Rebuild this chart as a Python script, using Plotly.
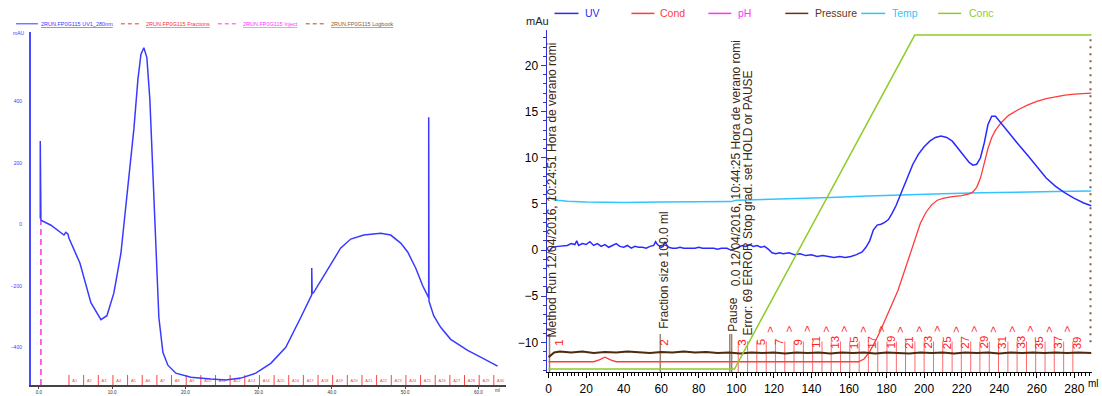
import plotly.graph_objects as go

W, H = 1102, 396
FONT = "Arial, Liberation Sans, sans-serif"

# ---------------- LEFT PANEL DATA (volume, mAU) ----------------
left_vol = [0.18, 0.18, 0.27, 1.64, 3.41, 3.68, 3.96, 4.09, 5.59, 7.09, 8.46, 9.28, 10.23, 11.19,
            12.14, 12.96, 13.51, 13.92, 14.32, 14.73, 15.14, 15.55, 15.96, 16.37, 16.92, 17.6,
            18.69, 20.74, 23.47, 25.51, 27.56, 29.6, 31.65, 33.7, 35.74, 37.24, 37.24, 37.3, 37.5,
            38.47, 39.84, 41.2, 42.57, 44.34, 46.66, 48.02, 49.39, 50.34, 51.43, 52.39, 53.21,
            53.21, 53.25, 53.89, 54.84, 56.21, 58.53, 60.3, 62.62]
left_uv = [19, 271, 13, -3, -35, -26, -32, -45, -126, -255, -310, -297, -223, -94,
           116, 310, 471, 552, 574, 542, 406, 181, -77, -303, -416, -458,
           -484, -497, -503, -506, -500, -484, -452, -400, -303, -229, -142, -225, -222,
           -184, -126, -77, -48, -35, -29, -35, -61, -90, -142, -200, -239,
           348, -250, -297, -335, -374, -410, -432, -461]
left_frac_vol = [4.1, 6.1, 8.1, 10.1, 12.1, 14.1, 16.1, 18.1, 20.1, 22.1, 24.1, 26.1, 28.1, 30.1,
                 32.1, 34.1, 36.1, 38.1, 40.1, 42.1, 44.1, 46.1, 48.1, 50.1, 52.1, 54.1, 56.1,
                 58.1, 60.1, 62.1]
left_inject_vol = 0.27
left_xticks = [0, 10, 20, 30, 40, 50, 60]
left_xticktext = ["0.0", "10.0", "20.0", "30.0", "40.0", "50.0", "60.0"]
left_yticks = [-400, -200, 0, 200, 400]
left_legend = ["2RUN.FP0G115 UV1_280nm", "2RUN.FP0G115 Fractions",
               "2RUN.FP0G115 Inject", "2RUN.FP0G115 Logbook"]

# ---------------- RIGHT PANEL DATA (ml) ----------------
uv_x = [0, 1, 2, 5, 8, 10, 12, 14, 15, 16, 18, 20, 22, 24, 26, 28, 30, 32, 34, 36, 38, 40, 42, 44,
        46, 48, 50, 52, 54, 56, 57, 58, 60, 61, 62, 63, 64, 66, 68, 70, 72, 75, 78, 80, 82, 85,
        88, 90, 92, 95, 97, 99, 101, 103, 105, 107, 109, 111, 113, 115, 117, 119, 121, 123, 125,
        128, 131, 134, 137, 140, 143, 146, 149, 152, 155, 158, 161, 164, 167, 169, 171, 173, 175,
        177, 179, 181, 183, 185, 187, 189, 191, 194, 197, 200, 203, 206, 209, 212, 215, 218, 221,
        224, 226, 228, 230, 232, 234, 236, 238, 240, 243, 246, 250, 255, 260, 265, 270, 275, 280,
        285, 289]
uv_y = [-0.2, 0.1, 0.3, 0.4, 0.5, 0.5, 0.7, 0.6, 1.0, 0.5, 0.7, 0.6, 0.9, 0.5, 0.7, 0.4, 0.6, 0.3,
        0.5, 0.7, 0.4, 0.3, 0.5, 0.2, 0.4, 0.3, 0.3, 0.2, 0.4, 0.5, 0.9, 0.6, 0.3, 0.4, 0.9, 0.5,
        0.3, 0.2, 0.2, 0.3, 0.2, 0.2, 0.2, 0.3, 0.2, 0.2, 0.2, 0.1, 0.2, 0.2, 0.0, 0.1, 0.3, 0.5,
        0.4, 0.6, 0.4, 0.5, 0.3, 0.4, 0.1, -0.3, -0.4, -0.3, -0.4, -0.3, -0.5, -0.4, -0.6, -0.5,
        -0.7, -0.6, -0.7, -0.8, -0.7, -0.8, -0.7, -0.5, -0.2, 0.3, 1.0, 2.2, 2.7, 2.8, 3.0, 3.3,
        4.0, 4.8, 5.8, 6.8, 8.0, 9.3, 10.4, 11.2, 11.8, 12.2, 12.35, 12.2, 11.8, 11.0, 10.2, 9.5,
        9.2, 9.3, 10.0, 11.6, 13.6, 14.5, 14.5, 14.0, 13.2, 12.4, 11.5, 10.3, 9.0, 7.8, 6.9, 6.2,
        5.6, 5.1, 4.8]

cond_x = [0, 24, 27, 30, 33, 36, 165, 168, 171, 174, 177, 180, 183, 186, 189, 192, 195, 198, 201,
          204, 207, 210, 215, 220, 224, 226, 228, 230, 232, 234, 236, 238, 241, 245, 250, 255,
          260, 265, 270, 275, 280, 289]
cond_y = [-12.1, -12.1, -11.9, -11.6, -11.9, -12.1, -12.1, -11.8, -11.0, -9.9, -8.6, -7.2, -5.8,
          -4.4, -2.6, -0.8, 1.2, 2.9, 4.1, 4.9, 5.4, 5.6, 5.8, 5.9, 6.1, 6.3, 6.8, 7.8, 9.4, 11.0,
          12.2, 13.0, 13.8, 14.6, 15.2, 15.7, 16.1, 16.4, 16.6, 16.8, 16.9, 17.0]

temp_x = [0, 2, 5, 10, 20, 40, 60, 80, 97, 100, 110, 130, 150, 170, 190, 210, 230, 250, 270, 289]
temp_y = [5.8, 5.5, 5.4, 5.3, 5.2, 5.15, 5.2, 5.2, 5.25, 5.4, 5.45, 5.55, 5.7, 5.85, 6.0, 6.1,
          6.2, 6.3, 6.35, 6.4]

press_x = [0, 3, 6, 12, 18, 24, 30, 36, 42, 48, 54, 60, 66, 72, 78, 84, 90, 96, 102, 108, 114,
           120, 126, 132, 138, 144, 150, 156, 162, 168, 174, 180, 186, 192, 198, 204, 210, 216,
           222, 228, 234, 240, 246, 252, 258, 264, 270, 276, 282, 289]
press_y = [-11.6, -11.1, -11.0, -11.1, -11.0, -11.15, -11.05, -11.1, -11.0, -11.1, -11.15, -11.05,
           -11.1, -11.0, -11.1, -11.05, -11.15, -11.1, -11.2, -11.1, -11.15, -11.1, -11.2, -11.1,
           -11.15, -11.1, -11.2, -11.1, -11.15, -11.1, -11.2, -11.1, -11.15, -11.2, -11.1,
           -11.15, -11.1, -11.2, -11.1, -11.15, -11.1, -11.2, -11.1, -11.15, -11.1, -11.15,
           -11.1, -11.15, -11.1, -11.15]

conc_x = [0, 99, 195, 289]
conc_y = [0, 0, 100, 100]

frac_no = list(range(1, 40))
frac_start = [3.5, 59.5, 101.0, 106.0, 110.9, 115.9, 120.8, 125.8, 130.7, 135.7, 140.6, 145.6,
              150.5, 155.5, 160.4, 165.4, 170.3, 175.3, 180.2, 185.2, 190.1, 195.1, 200.0, 205.0,
              209.9, 214.9, 219.8, 224.8, 229.7, 234.7, 239.6, 244.6, 249.5, 254.5, 259.4, 264.4,
              269.3, 274.3, 279.2]

logbook_x = [0.5, 59.5, 96.5, 97.5]
end_x = 288.6
logbook_text = ["Method Run 12/04/2016, 10:24:51 Hora de verano romi",
                "Fraction size 100.0 ml",
                "Pause",
                "0.0 12/04/2016, 10:44:25 Hora de verano romi",
                "Error: 69 ERROR Stop grad. set HOLD or PAUSE"]
logbook_text_x = [2.0, 61.5, 98.0, 100.0, 106.4]
logbook_text_y = [-9.7, -8.8, -9.1, -4.1, -9.5]

series_names = ["UV", "Cond", "pH", "Pressure", "Temp", "Conc"]
series_colors = ["#2a2aff", "#ff3b3b", "#ff33ff", "#663311", "#33c4ff", "#8fcc2a"]

# ---------------- FIGURE ----------------
fig = go.Figure()

def px(x):
    return x / W

def py(y):
    return 1 - y / H

L_YR = [-522.6, 625.8]
R_YR = [-13.23, 23.87]

# left: fractions marks
fx, fy = [], []
for v in left_frac_vol:
    fx += [v, v, None]
    fy += [L_YR[0], -490, None]
fig.add_trace(go.Scatter(x=fx, y=fy, mode="lines", line=dict(color="#ff4040", width=1),
                         xaxis="x", yaxis="y", showlegend=False, hoverinfo="skip"))
fig.add_trace(go.Scatter(x=[v + 0.45 for v in left_frac_vol], y=[-508] * len(left_frac_vol),
                         mode="text", text=[f"A{i+1}" for i in range(len(left_frac_vol))],
                         textfont=dict(size=4, color="#ff4040", family=FONT),
                         textposition="middle right", xaxis="x", yaxis="y",
                         showlegend=False, hoverinfo="skip"))
# inject mark
fig.add_trace(go.Scatter(x=[left_inject_vol, left_inject_vol], y=[L_YR[0], 13], mode="lines",
                         line=dict(color="#ff33dd", width=1.5, dash="6px,4px"),
                         xaxis="x", yaxis="y", showlegend=False, hoverinfo="skip"))
# left UV
fig.add_trace(go.Scatter(x=left_vol, y=left_uv, mode="lines",
                         line=dict(color="#3a3aff", width=1.5),
                         xaxis="x", yaxis="y", showlegend=False, hoverinfo="skip"))

# right: logbook lines
lx, ly = [], []
for v in logbook_x:
    lx += [v, v, None]
    ly += [R_YR[0], -9.1, None]
fig.add_trace(go.Scatter(x=lx, y=ly, mode="lines", line=dict(color="#9a8472", width=1.5),
                         xaxis="x2", yaxis="y2", showlegend=False, hoverinfo="skip"))
fig.add_trace(go.Scatter(x=[end_x, end_x], y=[-10.0, 23.4], mode="lines",
                         line=dict(color="#7a6048", width=2, dash="2px,5px"),
                         xaxis="x2", yaxis="y2", showlegend=False, hoverinfo="skip"))
# fraction lines
rx, ry = [], []
for v in frac_start[2:]:
    rx += [v, v, None]
    ry += [R_YR[0], -9.9, None]
fig.add_trace(go.Scatter(x=rx, y=ry, mode="lines", line=dict(color="#ff6a6a", width=1),
                         xaxis="x2", yaxis="y2", showlegend=False, hoverinfo="skip"))
# series
fig.add_trace(go.Scatter(x=conc_x, y=conc_y, mode="lines", line=dict(color=series_colors[5], width=1.5),
                         xaxis="x2", yaxis="y3", showlegend=False, hoverinfo="skip"))
fig.add_trace(go.Scatter(x=temp_x, y=temp_y, mode="lines", line=dict(color=series_colors[4], width=1.5),
                         xaxis="x2", yaxis="y2", showlegend=False, hoverinfo="skip"))
fig.add_trace(go.Scatter(x=cond_x, y=cond_y, mode="lines", line=dict(color=series_colors[1], width=1.3),
                         xaxis="x2", yaxis="y2", showlegend=False, hoverinfo="skip"))
fig.add_trace(go.Scatter(x=press_x, y=press_y, mode="lines", line=dict(color="#4f2a0c", width=2),
                         xaxis="x2", yaxis="y2", showlegend=False, hoverinfo="skip"))
fig.add_trace(go.Scatter(x=uv_x, y=uv_y, mode="lines", line=dict(color=series_colors[0], width=1.5),
                         xaxis="x2", yaxis="y2", showlegend=False, hoverinfo="skip"))

annotations = []
shapes = []

# fraction labels (right)
for n, s in zip(frac_no, frac_start):
    if n <= 3 or n % 2 == 1:
        annotations.append(dict(x=s + 2.2, y=-10.0, xref="x2", yref="y2", text=str(n),
                                textangle=-90, showarrow=False, xanchor="center", yanchor="middle",
                                font=dict(size=11.5, color="#ff2020", family=FONT)))
    elif n >= 6:
        annotations.append(dict(x=s + 2.2, y=-8.6, xref="x2", yref="y2", text=">",
                                textangle=-90, showarrow=False, xanchor="center", yanchor="middle",
                                font=dict(size=11, color="#ff2020", family=FONT)))

# logbook texts
for t, x0, y0 in zip(logbook_text, logbook_text_x, logbook_text_y):
    annotations.append(dict(x=x0, y=y0, xref="x2", yref="y2", text=t, textangle=-90,
                            showarrow=False, xanchor="center", yanchor="bottom",
                            font=dict(size=12, color="#3a2612", family=FONT)))

# right legend
leg_line = [(554, 578), (631, 654), (708, 731), (785, 808), (861, 885), (938, 961)]
leg_text_x = [583, 658, 736, 813, 890, 967]
for name, col, (a, b), tx in zip(series_names, series_colors, leg_line, leg_text_x):
    shapes.append(dict(type="line", xref="paper", yref="paper", x0=px(a), x1=px(b),
                       y0=py(13.5), y1=py(13.5), line=dict(color=col, width=1.5)))
    annotations.append(dict(x=px(tx), y=py(13.5), xref="paper", yref="paper", text=name,
                            showarrow=False, xanchor="left", yanchor="middle",
                            font=dict(size=10.5, color=col, family=FONT)))
annotations.append(dict(x=px(537), y=py(21), xref="paper", yref="paper", text="mAu",
                        showarrow=False, xanchor="center", yanchor="middle",
                        font=dict(size=11, color="#222222", family=FONT)))
annotations.append(dict(x=px(1101), y=py(386), xref="paper", yref="paper", text="ml",
                        showarrow=False, xanchor="right", yanchor="middle",
                        font=dict(size=10, color="#000000", family=FONT)))

# left legend
l_cols = ["#3a3aff", "#ff3030", "#ff33ff", "#8a5a30"]
l_dash = ["solid", "4px,3px", "4px,3px", "4px,3px"]
l_line = [(15, 37), (120, 140), (217, 238), (305, 325)]
l_tx = [38, 143, 240, 328]
for t, c, d, (a, b), tx in zip(left_legend, l_cols, l_dash, l_line, l_tx):
    shapes.append(dict(type="line", xref="paper", yref="paper", x0=px(a), x1=px(b),
                       y0=py(24), y1=py(24), line=dict(color=c, width=1, dash=d)))
    annotations.append(dict(x=px(tx), y=py(24), xref="paper", yref="paper",
                            text=f'<span style="text-decoration:underline">{t}</span>',
                            showarrow=False, xanchor="left", yanchor="middle",
                            font=dict(size=5.5, color=c, family=FONT)))
annotations.append(dict(x=px(18), y=py(33), xref="paper", yref="paper", text="mAU",
                        showarrow=False, xanchor="center", yanchor="middle",
                        font=dict(size=5, color="#3a3aff", family=FONT)))
annotations.append(dict(x=px(497), y=py(393), xref="paper", yref="paper", text="ml",
                        showarrow=False, xanchor="center", yanchor="middle",
                        font=dict(size=4.5, color="#333333", family=FONT)))

fig.update_layout(
    width=W, height=H, margin=dict(l=0, r=0, t=0, b=0),
    paper_bgcolor="white", plot_bgcolor="white", showlegend=False,
    font=dict(family=FONT),
    xaxis=dict(domain=[px(30), px(505)], range=[-1.09, 63.7], anchor="y",
               showgrid=False, zeroline=False, showline=True, linecolor="#444444", linewidth=1.5,
               tickvals=left_xticks, ticktext=left_xticktext, ticks="outside", ticklen=2,
               tickcolor="#444444", tickfont=dict(size=4.5, color="#333333")),
    yaxis=dict(domain=[py(388), py(32)], range=L_YR, anchor="x",
               showgrid=False, zeroline=False, showline=True, linecolor="#4a4aff", linewidth=2,
               tickvals=left_yticks, ticks="", ticklabelstandoff=6,
               tickfont=dict(size=5, color="#3a3aff")),
    xaxis2=dict(domain=[px(546), px(1092)], range=[-1.1, 289.4], anchor="y2",
                showgrid=False, zeroline=False, showline=True, linecolor="#000000", linewidth=1,
                tick0=0, dtick=20, ticks="outside", ticklen=5, tickcolor="#000000",
                minor=dict(dtick=2, ticks="outside", ticklen=3, tickcolor="#000000"),
                tickfont=dict(size=12, color="#000000")),
    yaxis2=dict(domain=[py(375), py(30)], range=R_YR, anchor="x2",
                showgrid=False, zeroline=False, showline=True, linecolor="#3030d0", linewidth=1,
                tick0=0, dtick=5, ticks="outside", ticklen=5, tickcolor="#3030d0",
                minor=dict(dtick=1, ticks="outside", ticklen=3, tickcolor="#3030d0"),
                tickfont=dict(size=12, color="#000000")),
    yaxis3=dict(overlaying="y2", anchor="x2", range=[-0.91, 101.6], visible=False),
    annotations=annotations, shapes=shapes,
)

fig.write_html("out.html")
